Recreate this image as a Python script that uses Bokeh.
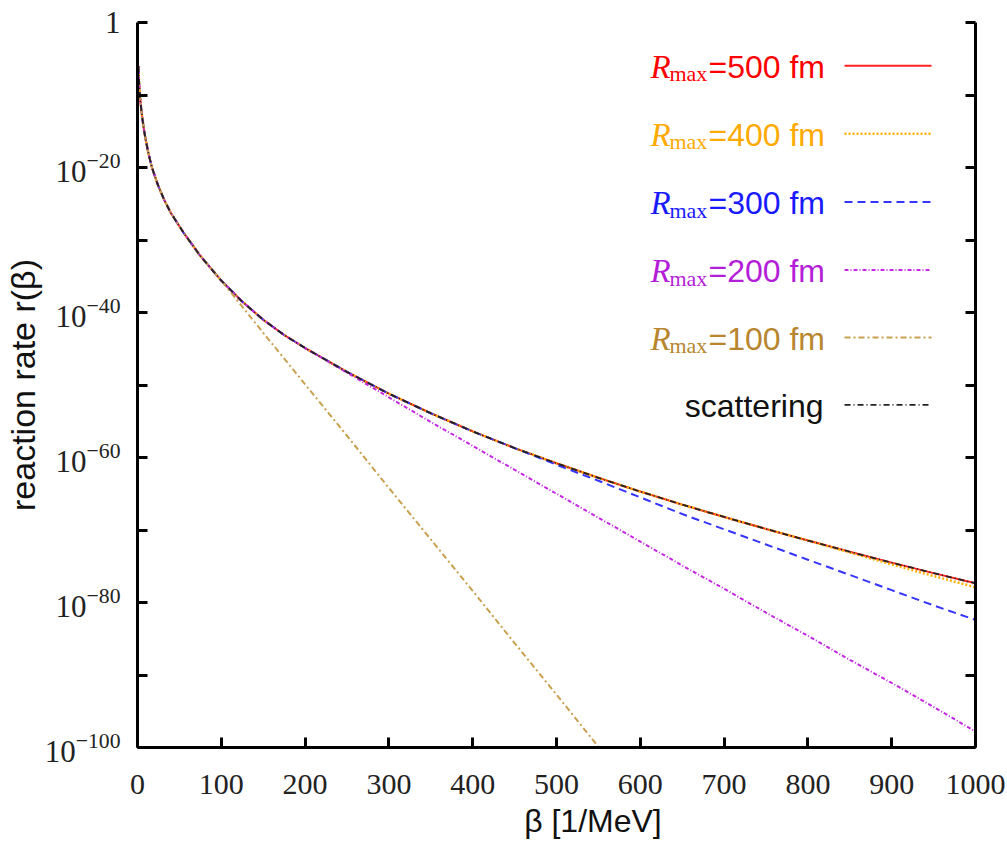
from bokeh.plotting import figure
from bokeh.models import Range1d, FixedTicker, LogAxis, Label, Arrow, LogTickFormatter
from bokeh.embed import file_html
from bokeh.resources import INLINE

# ---------------- data (log10 of reaction rate) ----------------
beta_scatt = [1, 2, 3, 4.5, 6, 8, 10, 13, 17, 21, 25, 32, 40, 55, 75, 100, 125, 150, 175, 200,
              250, 300, 350, 400, 450, 500, 550, 600, 650, 700, 750, 800, 850, 900, 950, 1000]
log_scatt = [-6.0, -8.5, -10.3, -12.0, -13.4, -15.0, -16.3, -18.0, -19.9, -21.3, -22.6, -24.5,
             -26.3, -29.0, -32.2, -35.6, -38.5, -41.0, -43.1, -44.9, -48.2, -51.2, -53.9, -56.4,
             -58.7, -60.8, -62.8, -64.7, -66.5, -68.2, -69.85, -71.45, -73.0, -74.5, -75.95,
             -77.35]

# 500 fm coincides with the scattering curve over the whole range
beta_500 = beta_scatt
log_500 = log_scatt

beta_400 = beta_scatt
log_400 = [-6.0, -8.5, -10.3, -12.0, -13.4, -15.0, -16.3, -18.0, -19.9, -21.3, -22.6, -24.5,
           -26.3, -29.0, -32.2, -35.6, -38.5, -41.0, -43.1, -44.9, -48.2, -51.2, -53.9, -56.4,
           -58.7, -60.8, -62.8, -64.7, -66.5, -68.2, -69.85, -71.45, -73.1, -74.75, -76.35,
           -77.9]

beta_300 = beta_scatt
log_300 = [-6.0, -8.5, -10.3, -12.0, -13.4, -15.0, -16.3, -18.0, -19.9, -21.3, -22.6, -24.5,
           -26.3, -29.0, -32.2, -35.6, -38.5, -41.0, -43.1, -44.9, -48.2, -51.2, -53.9, -56.4,
           -58.7, -61.0, -63.2, -65.5, -67.8, -69.9, -72.0, -74.1, -76.2, -78.3, -80.4, -82.4]

beta_200 = beta_scatt
log_200 = [-6.0, -8.5, -10.3, -12.0, -13.4, -15.0, -16.3, -18.0, -19.9, -21.3, -22.6, -24.5,
           -26.3, -29.0, -32.2, -35.6, -38.5, -41.0, -43.1, -44.9, -48.3, -51.7, -55.1, -58.4,
           -61.7, -65.0, -68.3, -71.6, -74.9, -78.1, -81.4, -84.6, -87.9, -91.1, -94.4, -97.8]

beta_100 = [1, 2, 3, 4.5, 6, 8, 10, 13, 17, 21, 25, 32, 40, 55, 75, 100, 110, 125, 150, 200,
            250, 300, 350, 400, 450, 500, 550, 560]
log_100 = [-6.0, -8.5, -10.3, -12.0, -13.4, -15.0, -16.3, -18.0, -19.9, -21.3, -22.6, -24.5,
           -26.3, -29.0, -32.2, -35.6, -37.0, -39.2, -42.8, -49.9, -57.0, -64.2, -71.3, -78.4,
           -85.6, -92.7, -99.9, -101.3]

series_names = ["500 fm", "400 fm", "300 fm", "200 fm", "100 fm", "scattering"]
series_beta = [beta_500, beta_400, beta_300, beta_200, beta_100, beta_scatt]
series_log = [log_500, log_400, log_300, log_200, log_100, log_scatt]

x_ticks = [0, 100, 200, 300, 400, 500, 600, 700, 800, 900, 1000]
y_major_exps = [0, -20, -40, -60, -80, -100]
y_minor_exps = [-10, -30, -50, -70, -90]
y_top_label = "1"
x_title = "\u2003\u2003 β [1/MeV]"
y_title = "reaction rate r(β)"

# ---------------- styles ----------------
line_colors = ["#ff2020", "#ffb000", "#3535ff", "#c428e0", "#c9a050", "#222222"]
text_colors = ["#ff0000", "#ffaa00", "#1a1aff", "#b41ed8", "#b8862e", "#111111"]
line_dashes = ["solid", "2 2", "8 5", "4 2 1 2", "6 3 2 3", "6 3 1 3"]
line_widths = [2, 2.5, 2, 2, 2, 1.8]

p = figure(x_axis_type="linear", y_axis_type="log",
           frame_width=838, frame_height=725,
           min_border_left=137, min_border_right=32, min_border_top=22, min_border_bottom=102,
           x_range=Range1d(0, 1000), y_range=Range1d(1e-100, 1.0),
           output_backend="svg", toolbar_location=None, title=None)
p.outline_line_color = None
p.grid.visible = False
p.background_fill_color = "white"
p.border_fill_color = "white"

for b, lg, c, d, w in zip(series_beta, series_log, line_colors, line_dashes, line_widths):
    p.line(b, [10.0 ** v for v in lg], line_color=c, line_dash=d, line_width=w)

# x axis
xa = p.xaxis[0]
xa.ticker = FixedTicker(ticks=x_ticks)
xa.axis_line_width = 3
xa.major_tick_line_width = 3
xa.major_tick_in = 10
xa.major_tick_out = 0
xa.minor_tick_line_color = None
xa.major_label_text_font = "Liberation Serif"
xa.major_label_text_font_size = "30px"
xa.major_label_text_color = "#222222"
xa.major_label_standoff = 27
xa.axis_label = x_title
xa.axis_label_text_font = "Liberation Sans"
xa.axis_label_text_font_size = "32px"
xa.axis_label_text_font_style = "normal"
xa.axis_label_text_color = "#111111"
xa.axis_label_standoff = 6

# y axis (left)
y_ticker = FixedTicker(ticks=[10.0 ** e for e in y_major_exps],
                       minor_ticks=[10.0 ** e for e in y_minor_exps])
ya = p.yaxis[0]
ya.ticker = y_ticker
ya.formatter = LogTickFormatter()
ya.axis_line_width = 3
ya.major_tick_line_width = 3
ya.major_tick_in = 10
ya.major_tick_out = 0
ya.minor_tick_line_width = 3
ya.minor_tick_in = 10
ya.minor_tick_out = 0
ya.major_label_overrides = {1.0: y_top_label}
ya.major_label_text_font = "Liberation Serif"
ya.major_label_text_font_size = "31px"
ya.major_label_text_color = "#222222"
ya.major_label_standoff = 17
ya.axis_label = y_title
ya.axis_label_text_font = "Liberation Sans"
ya.axis_label_text_font_size = "34px"
ya.axis_label_text_font_style = "normal"
ya.axis_label_text_color = "#111111"
ya.axis_label_standoff = 0

# right axis (mirror ticks, labels invisible)
ra = LogAxis(ticker=y_ticker)
ra.axis_line_width = 3
ra.major_tick_line_width = 3
ra.major_tick_in = 10
ra.major_tick_out = 0
ra.minor_tick_line_width = 3
ra.minor_tick_in = 10
ra.minor_tick_out = 0
ra.major_label_text_font_size = "6px"
ra.major_label_text_alpha = 0.0
ra.major_label_standoff = 0
p.add_layout(ra, "right")


def L(x, lg, text, font, size, style="normal", color="#111111", align="left"):
    lab = Label(x=x, y=10.0 ** lg, text=text, text_font=font, text_font_size=size,
                text_font_style=style, text_color=color, text_align=align,
                text_baseline="alphabetic")
    p.add_layout(lab)


# legend (text on the left, sample on the right)
row_base = [-6.1, -15.5, -24.9, -34.3, -43.6, -52.9]
for i, name in enumerate(series_names):
    base = row_base[i]
    if name == "scattering":
        L(818.6, base, "scattering", "Liberation Sans", "32px", color=text_colors[i], align="right")
    else:
        L(612.2, base, "R", "Liberation Serif", "33px", style="italic", color=text_colors[i])
        L(634.8, base - 0.97, "max", "Liberation Serif", "22px", color=text_colors[i])
        L(681.4, base, "=" + name, "Liberation Sans", "32px", color=text_colors[i])
    ly = 10.0 ** (base + 0.15)
    p.add_layout(Arrow(start=None, end=None, x_start=843.7, y_start=ly, x_end=947.5, y_end=ly,
                       line_color=line_colors[i], line_dash=line_dashes[i],
                       line_width=line_widths[i]))

open("out.html", "w").write(file_html(p, INLINE))
